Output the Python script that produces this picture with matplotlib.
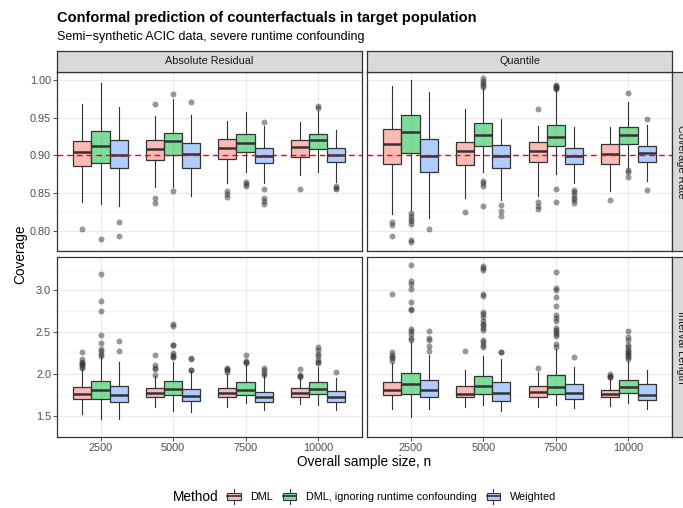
import numpy as np
import matplotlib.pyplot as plt
from matplotlib.legend_handler import HandlerBase
from matplotlib.patches import Rectangle, Patch
from matplotlib.lines import Line2D
from matplotlib.colors import to_rgba

plt.rcParams['font.family'] = ['Liberation Sans', 'DejaVu Sans']

sizes = ["2500", "5000", "7500", "10000"]
methods = ["DML", "DML, ignoring runtime confounding", "Weighted"]
scores = ["Absolute Residual", "Quantile"]
metrics = ["Coverage Rate", "Interval Length"]
colors = ["#F8766D", "#00BA38", "#619CFF"]

# box stats per sample size: (lower whisker, q1, median, q3, upper whisker)
# --- Absolute Residual, coverage
abs_cov_dml = [(0.838, 0.8855, 0.905, 0.919, 0.968), (0.858, 0.8935, 0.908, 0.920, 0.952),
               (0.8635, 0.895, 0.9095, 0.9215, 0.946), (0.874, 0.898, 0.911, 0.920, 0.944)]
abs_cov_dml_out = [[0.802], [0.968, 0.8436, 0.8374], [0.853, 0.849, 0.845], [0.856]]
abs_cov_ign = [(0.836, 0.890, 0.912, 0.933, 0.996), (0.858, 0.900, 0.919, 0.930, 0.975),
               (0.8775, 0.905, 0.916, 0.9285, 0.958), (0.8775, 0.9085, 0.920, 0.9285, 0.9595)]
abs_cov_ign_out = [[0.790], [0.982, 0.8535], [0.865, 0.862, 0.860], [0.9655, 0.963]]
abs_cov_wt = [(0.8325, 0.884, 0.901, 0.9205, 0.964), (0.847, 0.884, 0.902, 0.916, 0.953),
              (0.8635, 0.8895, 0.899, 0.9105, 0.939), (0.865, 0.891, 0.901, 0.9095, 0.934)]
abs_cov_wt_out = [[0.8125, 0.794], [0.971], [0.9445, 0.856, 0.844, 0.840, 0.836],
                  [0.860, 0.8575, 0.855]]

# --- Quantile, coverage
q_cov_dml = [(0.8225, 0.889, 0.9155, 0.9355, 0.9925), (0.8435, 0.887, 0.9055, 0.9175, 0.961),
             (0.846, 0.8915, 0.9055, 0.9185, 0.9395), (0.853, 0.889, 0.9025, 0.915, 0.9375)]
q_cov_dml_out = [[0.8125, 0.808, 0.794], [0.8245], [0.961, 0.838, 0.8335, 0.829], [0.8415]]
q_cov_ign = [(0.828, 0.903, 0.931, 0.953, 1.000), (0.8775, 0.912, 0.9265, 0.9435, 0.990),
             (0.876, 0.912, 0.9245, 0.9405, 0.9865), (0.8835, 0.9155, 0.927, 0.938, 0.9705)]
q_cov_ign_out = [[0.824, 0.820, 0.8165, 0.813, 0.809, 0.788, 0.786],
                 [1.002, 0.999, 0.9965, 0.993, 0.991, 0.866, 0.863, 0.859, 0.8325],
                 [0.994, 0.9925, 0.991, 0.989, 0.988, 0.856, 0.838],
                 [0.983, 0.881, 0.8775, 0.872]]
q_cov_wt = [(0.817, 0.878, 0.8995, 0.9215, 0.9835), (0.8415, 0.8835, 0.8995, 0.9135, 0.948),
            (0.8635, 0.8885, 0.899, 0.9105, 0.9375), (0.866, 0.892, 0.903, 0.912, 0.941)]
q_cov_wt_out = [[0.8025], [0.835, 0.826, 0.820], [0.8545, 0.851, 0.8475, 0.844, 0.8405, 0.837],
                [0.948, 0.8545]]

# --- Absolute Residual, interval length
abs_len_dml = [(1.526, 1.699, 1.767, 1.853, 2.06), (1.613, 1.722, 1.774, 1.831, 1.975),
               (1.613, 1.722, 1.774, 1.831, 2.0), (1.65, 1.729, 1.774, 1.831, 1.947)]
abs_len_dml_out = [[2.267, 2.18, 2.15, 2.135, 2.12, 2.105, 2.09, 2.08],
                   [2.226, 2.105, 2.079, 2.06, 1.992], [2.075, 2.06, 2.045, 2.03],
                   [2.064, 1.992, 1.98, 1.97]]
abs_len_ign = [(1.47, 1.707, 1.816, 1.917, 2.21), (1.564, 1.752, 1.827, 1.917, 2.147),
               (1.658, 1.752, 1.816, 1.910, 2.11), (1.628, 1.759, 1.823, 1.910, 2.09)]
abs_len_ign_out = [[3.195, 2.88, 2.76, 2.474, 2.372, 2.305, 2.278, 2.241, 2.222],
                   [2.598, 2.579, 2.353, 2.345, 2.259, 2.233, 2.211, 2.2],
                   [2.229, 2.158, 2.135, 2.14],
                   [2.323, 2.286, 2.241, 2.222, 2.165, 2.147, 2.135]]
abs_len_wt = [(1.47, 1.665, 1.748, 1.865, 2.147), (1.545, 1.677, 1.744, 1.82, 2.035),
              (1.571, 1.673, 1.722, 1.79, 1.985), (1.571, 1.669, 1.722, 1.797, 1.959)]
abs_len_wt_out = [[2.395, 2.278], [2.19, 2.18, 2.055, 2.05], [2.071, 2.045, 2.015, 1.992], [2.023]]

# --- Quantile, interval length
q_len_dml = [(1.579, 1.749, 1.809, 1.911, 2.13), (1.606, 1.729, 1.767, 1.861, 2.049),
             (1.606, 1.729, 1.786, 1.857, 2.031), (1.624, 1.726, 1.763, 1.812, 1.945)]
q_len_dml_out = [[2.962, 2.26, 2.235, 2.21, 2.19, 2.16], [2.274], [2.079],
                 [2.0, 1.981, 1.962, 1.97]]
q_len_ign = [(1.493, 1.767, 1.887, 2.019, 2.387), (1.628, 1.767, 1.861, 1.974, 2.214),
             (1.636, 1.767, 1.846, 1.985, 2.304), (1.654, 1.774, 1.846, 1.932, 2.154)]
q_len_ign_out = [[3.309, 3.11, 3.083, 3.019, 2.868, 2.782, 2.763, 2.538, 2.511, 2.481, 2.432, 2.406],
                 [3.297, 3.27, 3.245, 2.958, 2.932, 2.744, 2.718, 2.688, 2.632, 2.605, 2.583,
                  2.557, 2.527, 2.406, 2.38, 2.35, 2.32],
                 [3.222, 3.027, 3.008, 2.925, 2.82, 2.707, 2.677, 2.632, 2.557, 2.53, 2.51,
                  2.48, 2.455, 2.357, 2.33],
                 [2.511, 2.444, 2.406, 2.35, 2.32, 2.293, 2.274, 2.256, 2.237, 2.218, 2.2, 2.18]]
q_len_wt = [(1.579, 1.733, 1.809, 1.929, 2.225), (1.561, 1.685, 1.778, 1.907, 2.177),
            (1.598, 1.703, 1.778, 1.888, 2.087), (1.579, 1.688, 1.748, 1.888, 2.049)]
q_len_wt_out = [[2.519, 2.432, 2.414, 2.331, 2.282], [2.267, 2.262], [2.211], []]

panels = {
    (0, 0): [(abs_cov_dml, abs_cov_dml_out), (abs_cov_ign, abs_cov_ign_out), (abs_cov_wt, abs_cov_wt_out)],
    (0, 1): [(q_cov_dml, q_cov_dml_out), (q_cov_ign, q_cov_ign_out), (q_cov_wt, q_cov_wt_out)],
    (1, 0): [(abs_len_dml, abs_len_dml_out), (abs_len_ign, abs_len_ign_out), (abs_len_wt, abs_len_wt_out)],
    (1, 1): [(q_len_dml, q_len_dml_out), (q_len_ign, q_len_ign_out), (q_len_wt, q_len_wt_out)],
}

EDGE = '#333333'
W, H = 683, 508
fig = plt.figure(figsize=(W / 100, H / 100), dpi=100)


def px_axes(x0, y0, x1, y1):
    return fig.add_axes([x0 / W, 1 - y1 / H, (x1 - x0) / W, (y1 - y0) / H])


col_x = [(57, 361.5), (367, 672)]
row_y = [(72, 251), (257, 437)]
ylims = [(0.7735, 1.0106), (1.373, 3.40)]
ymaj = [np.arange(0.80, 1.001, 0.05), np.arange(1.5, 3.01, 0.5)]
ymin = [np.arange(0.775, 1.01, 0.025), np.arange(1.25, 3.5, 0.25)]
pos = np.arange(1, 5)
offs = [-0.25, 0.0, 0.25]

for (r, c), series in panels.items():
    ax = px_axes(col_x[c][0], row_y[r][0], col_x[c][1], row_y[r][1])
    ax.set_xlim(0.4, 4.6)
    ax.set_ylim(*ylims[r])
    ax.set_axisbelow(True)
    ax.set_xticks(pos)
    ax.set_yticks(ymaj[r])
    ax.set_yticks(ymin[r], minor=True)
    ax.grid(which='major', color='#EBEBEB', lw=0.8)
    ax.grid(which='minor', axis='y', color='#F2F2F2', lw=0.5)
    ax.tick_params(which='minor', length=0)
    ax.tick_params(which='major', length=2.75, width=0.6, color=EDGE,
                   labelcolor='#4D4D4D', labelsize=7.8, pad=1.5)
    if r == 1:
        ax.set_xticklabels(sizes)
    else:
        ax.tick_params(axis='x', length=0, labelbottom=False)
    if c == 0:
        labels = ['%.2f' % v for v in ymaj[r]] if r == 0 else ['%.1f' % v for v in ymaj[r]]
        ax.set_yticklabels(labels)
    else:
        ax.tick_params(axis='y', length=0, labelleft=False)
    for s in ax.spines.values():
        s.set_color(EDGE)
        s.set_linewidth(0.9)

    for k, (st, out) in enumerate(series):
        stats = []
        for (lo, q1, med, q3, hi), fl in zip(st, out):
            stats.append(dict(whislo=lo, q1=q1, med=med, q3=q3, whishi=hi, fliers=fl))
        ax.bxp(stats, positions=pos + offs[k], widths=0.25, patch_artist=True,
               showcaps=False, manage_ticks=False,
               boxprops=dict(facecolor=to_rgba(colors[k], 0.5), edgecolor=EDGE, lw=0.9),
               medianprops=dict(color=EDGE, lw=1.8, solid_capstyle='butt'),
               whiskerprops=dict(color=EDGE, lw=0.8),
               flierprops=dict(marker='o', markerfacecolor=(0.2, 0.2, 0.2, 0.5),
                               markeredgecolor='none', markersize=4.3))
    if r == 0:
        ax.axhline(0.9, color='#FF0000', ls=(0, (4, 3)), lw=1.0, zorder=5)

    # facet strips
    if r == 0:
        sa = px_axes(col_x[c][0], 51, col_x[c][1], 72)
        sa.text(0.5, 0.5, scores[c], ha='center', va='center', fontsize=7.8, color='#1A1A1A')
        sa.set_facecolor('#D9D9D9')
        sa.set_xticks([])
        sa.set_yticks([])
        for s in sa.spines.values():
            s.set_color(EDGE)
            s.set_linewidth(0.9)
    if c == 1:
        sa = px_axes(672, row_y[r][0], 690, row_y[r][1])
        sa.text(0.5, 0.5, metrics[r], ha='center', va='center', rotation=270,
                fontsize=7.8, color='#1A1A1A')
        sa.set_facecolor('#D9D9D9')
        sa.set_xticks([])
        sa.set_yticks([])
        for s in sa.spines.values():
            s.set_color(EDGE)
            s.set_linewidth(0.9)

fig.text(57 / W, 1 - 18 / H, "Conformal prediction of counterfactuals in target population",
         fontsize=10.5, fontweight='bold', va='center', ha='left')
fig.text(57 / W, 1 - 37 / H, "Semi\u2212synthetic ACIC data, severe runtime confounding",
         fontsize=9, va='center', ha='left')
fig.text(20 / W, 1 - 254 / H, "Coverage", rotation=90, fontsize=9.8, va='center', ha='center')
fig.text(364.5 / W, 1 - 462 / H, "Overall sample size, n", fontsize=9.8, va='center', ha='center')


class BoxHandler(HandlerBase):
    def create_artists(self, legend, orig_handle, xdescent, ydescent, width, height,
                       fontsize, trans):
        fc = orig_handle.get_facecolor()
        x0, y0 = -xdescent, -ydescent
        cx = x0 + width / 2
        rect = Rectangle((x0, y0 + height * 0.1), width, height * 0.8, facecolor=fc,
                         edgecolor=EDGE, lw=0.8, transform=trans)
        med = Line2D([x0, x0 + width], [y0 + height / 2] * 2, color=EDGE, lw=1.2,
                     transform=trans)
        wl = Line2D([cx, cx], [y0 - height * 0.35, y0 + height * 0.1], color=EDGE, lw=0.7,
                    transform=trans)
        wh = Line2D([cx, cx], [y0 + height * 0.9, y0 + height * 1.35], color=EDGE, lw=0.7,
                    transform=trans)
        return [wl, wh, rect, med]


handles = [Patch(facecolor=to_rgba(col, 0.5)) for col in colors]
fig.text(173 / W, 1 - 497 / H, "Method", fontsize=9.8, va='center', ha='left')
fig.legend(handles, methods, loc='center left', bbox_to_anchor=(227 / W, 1 - 497 / H),
           ncol=3, frameon=False, fontsize=7.8, handlelength=1.25, handleheight=0.9,
           handletextpad=0.9, columnspacing=0.9, borderpad=0, borderaxespad=0,
           handler_map={Patch: BoxHandler()})

fig.savefig("out.png", dpi=100)
